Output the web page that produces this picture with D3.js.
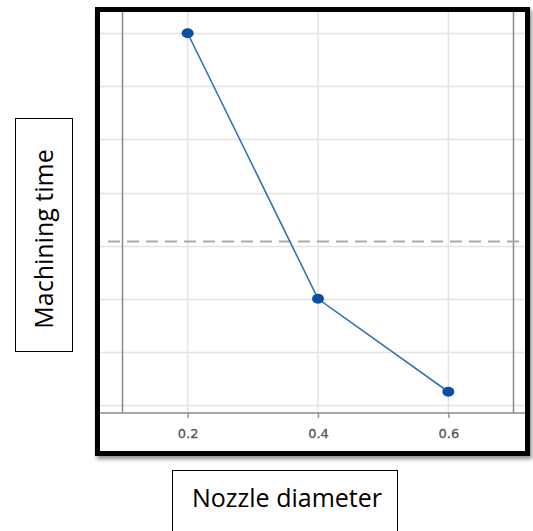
<!DOCTYPE html>
<html><head><meta charset="utf-8">
<script src="https://cdn.jsdelivr.net/npm/d3@7"></script>
<style>html,body{margin:0;padding:0;background:#fff;}svg{display:block;}</style>
</head><body>
<svg id="c" width="533" height="531"></svg>
<script>
const diameters = [0.2, 0.4, 0.6];
const machiningTime = [8, 3, 1.25];
const referenceLevel = [4.08];
const xTickValues = [0.2, 0.4, 0.6];
const yGridValues = [1, 2, 3, 4, 5, 6, 7, 8];
const xEdges = [0.1, 0.7];
const xLabel = "Nozzle diameter";
const yLabel = "Machining time";

const svg = d3.select("#c");
const defs = svg.append("defs");
const f = defs.append("filter").attr("id","sh").attr("x","-5%").attr("y","-5%").attr("width","115%").attr("height","115%");
f.append("feDropShadow").attr("dx",2).attr("dy",3).attr("stdDeviation",2).attr("flood-color","#000").attr("flood-opacity",0.45);

const inner = {l:100, r:525, t:12, b:413};
const x = d3.scaleLinear().domain([0.1, 0.7]).range([122.5, 513.5]);
const y = d3.scaleLinear().domain([0.85, 8.4]).range([413, 12]);

// frame with shadow
svg.append("rect").attr("x",97.5).attr("y",9.5).attr("width",430).attr("height",444)
  .attr("fill","#fff").attr("stroke","#000").attr("stroke-width",5).attr("filter","url(#sh)");

const g = svg.append("g");
g.selectAll(".hg").data(yGridValues).join("line")
  .attr("x1",inner.l).attr("x2",inner.r)
  .attr("y1",d=>Math.round(y(d))+0.5).attr("y2",d=>Math.round(y(d))+0.5)
  .attr("stroke","#e4e4e4").attr("stroke-width",1.5);
g.selectAll(".vg").data(xTickValues).join("line")
  .attr("y1",inner.t).attr("y2",inner.b)
  .attr("x1",d=>x(d)).attr("x2",d=>x(d))
  .attr("stroke","#e4e4e4").attr("stroke-width",1.5);
g.selectAll(".ve").data(xEdges).join("line")
  .attr("y1",inner.t).attr("y2",inner.b)
  .attr("x1",d=>x(d)).attr("x2",d=>x(d))
  .attr("stroke","#8a8a8a").attr("stroke-width",1.5);

g.selectAll(".ref").data(referenceLevel).join("line")
  .attr("x1",108).attr("x2",inner.r)
  .attr("y1",d=>y(d)).attr("y2",d=>y(d))
  .attr("stroke","#a9a9a9").attr("stroke-width",2).attr("stroke-dasharray","12,7");

const ax = svg.append("g").attr("transform",`translate(0,${inner.b})`)
  .call(d3.axisBottom(x).tickValues(xTickValues).tickFormat(d3.format(".1f")).tickSize(5).tickSizeOuter(0));
ax.select(".domain").remove();
ax.selectAll(".tick line").attr("stroke","#999").attr("stroke-width",1.5);
ax.selectAll(".tick text").attr("fill","#555").attr("font-family","DejaVu Sans, sans-serif")
  .attr("font-size",13).attr("y",25).attr("dy",0).attr("stroke","#555").attr("stroke-width",0.3);
svg.append("line").attr("x1",inner.l).attr("x2",inner.r).attr("y1",inner.b).attr("y2",inner.b)
  .attr("stroke","#8a8a8a").attr("stroke-width",1.5);

const pts = diameters.map((d,i)=>({x:d, y:machiningTime[i]}));
svg.append("path").datum(pts)
  .attr("d", d3.line().x(d=>x(d.x)).y(d=>y(d.y)))
  .attr("fill","none").attr("stroke","#2f73b8").attr("stroke-width",1.6);
svg.selectAll(".pt").data(pts).join("ellipse")
  .attr("cx",d=>x(d.x)).attr("cy",d=>y(d.y)).attr("rx",6).attr("ry",5)
  .attr("fill","#0b4fa3");

svg.append("rect").attr("x",15.5).attr("y",118.5).attr("width",57).attr("height",233)
  .attr("fill","#fff").attr("stroke","#000").attr("stroke-width",1);
svg.append("text").attr("transform","translate(53,239) rotate(-90)")
  .attr("text-anchor","middle").attr("font-family","Open Sans, sans-serif").attr("font-size",25)
  .attr("fill","#000").text(yLabel);

svg.append("rect").attr("x",172.5).attr("y",470.5).attr("width",225).attr("height",80)
  .attr("fill","#fff").attr("stroke","#000").attr("stroke-width",1);
svg.append("text").attr("x",287).attr("y",507)
  .attr("text-anchor","middle").attr("font-family","Open Sans, sans-serif").attr("font-size",25)
  .attr("fill","#000").text(xLabel);
</script>
</body></html>
